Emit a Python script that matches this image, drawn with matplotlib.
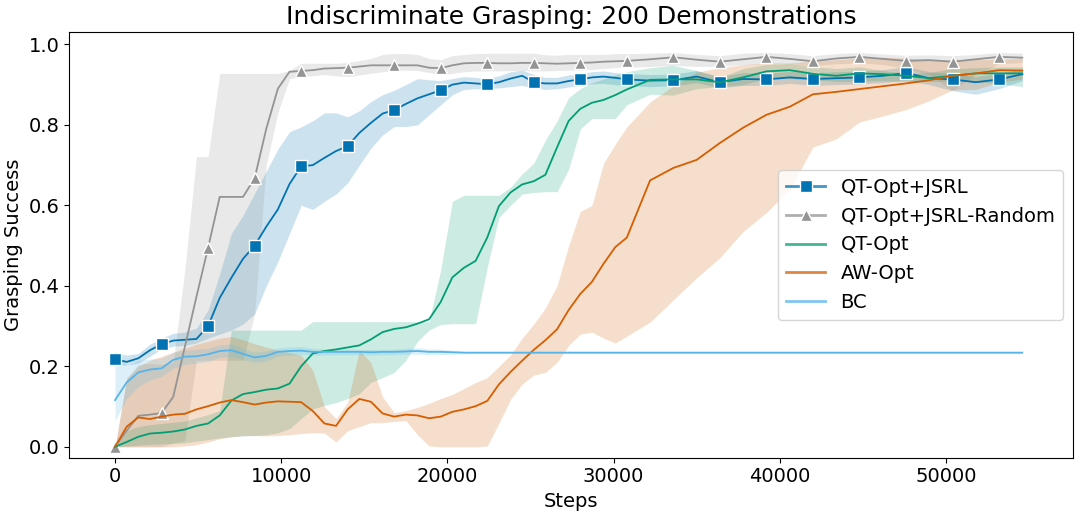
import numpy as np
import matplotlib
matplotlib.use('Agg')
import matplotlib.pyplot as plt
from matplotlib.colors import to_rgba
from matplotlib.lines import Line2D

# eval steps: every 700 steps up to 30800, then every 1400
steps = np.concatenate([np.arange(0, 31500, 700), np.arange(32200, 55000, 1400)])

# QT-Opt+JSRL
jsrl_mean = [0.218, 0.211, 0.220, 0.240, 0.255, 0.264, 0.266, 0.268, 0.300, 0.370,
             0.420, 0.467, 0.500, 0.547, 0.590, 0.653, 0.697, 0.700, 0.718, 0.735,
             0.747, 0.780, 0.805, 0.828, 0.837, 0.852, 0.866, 0.876, 0.886, 0.900,
             0.905, 0.903, 0.901, 0.906, 0.915, 0.922, 0.906, 0.903, 0.903, 0.909,
             0.913, 0.918, 0.920, 0.917, 0.913,
             0.910, 0.911, 0.920, 0.906, 0.914, 0.913, 0.918, 0.914, 0.916, 0.918,
             0.922, 0.929, 0.916, 0.913, 0.906, 0.913, 0.926]
jsrl_low = [0.205, 0.202, 0.208, 0.225, 0.243, 0.250, 0.252, 0.258, 0.270, 0.280,
            0.290, 0.305, 0.330, 0.400, 0.460, 0.530, 0.600, 0.590, 0.610, 0.628,
            0.656, 0.700, 0.742, 0.775, 0.796, 0.796, 0.800, 0.825, 0.850, 0.875,
            0.888, 0.890, 0.890, 0.892, 0.895, 0.898, 0.892, 0.888, 0.890, 0.894,
            0.898, 0.902, 0.903, 0.900, 0.898,
            0.895, 0.897, 0.905, 0.892, 0.898, 0.898, 0.903, 0.898, 0.900, 0.902,
            0.905, 0.910, 0.900, 0.885, 0.876, 0.890, 0.910]
jsrl_high = [0.235, 0.228, 0.232, 0.255, 0.270, 0.282, 0.285, 0.295, 0.340, 0.430,
             0.530, 0.575, 0.630, 0.685, 0.740, 0.783, 0.795, 0.810, 0.830, 0.830,
             0.820, 0.835, 0.858, 0.875, 0.886, 0.900, 0.915, 0.912, 0.910, 0.915,
             0.920, 0.918, 0.915, 0.922, 0.932, 0.936, 0.925, 0.918, 0.918, 0.924,
             0.928, 0.932, 0.934, 0.930, 0.928,
             0.925, 0.926, 0.935, 0.920, 0.930, 0.928, 0.933, 0.930, 0.932, 0.934,
             0.937, 0.945, 0.932, 0.928, 0.920, 0.928, 0.940]

# QT-Opt+JSRL-Random
rand_mean = [0.000, 0.040, 0.077, 0.080, 0.084, 0.124, 0.248, 0.373, 0.495, 0.621,
             0.621, 0.621, 0.667, 0.790, 0.890, 0.932, 0.934, 0.936, 0.940, 0.941,
             0.942, 0.945, 0.948, 0.948, 0.948, 0.948, 0.948, 0.942, 0.941, 0.948,
             0.953, 0.954, 0.954, 0.953, 0.953, 0.954, 0.954, 0.953, 0.952, 0.953,
             0.954, 0.955, 0.957, 0.958, 0.959,
             0.963, 0.968, 0.962, 0.957, 0.963, 0.969, 0.964, 0.958, 0.965, 0.969,
             0.964, 0.959, 0.961, 0.957, 0.963, 0.969, 0.967]
rand_low = [0.000, 0.000, 0.000, 0.000, 0.000, 0.010, 0.015, 0.215, 0.215, 0.215,
            0.215, 0.215, 0.330, 0.700, 0.830, 0.915, 0.919, 0.922, 0.925, 0.922,
            0.920, 0.924, 0.928, 0.932, 0.935, 0.936, 0.935, 0.930, 0.925, 0.928,
            0.932, 0.934, 0.934, 0.934, 0.935, 0.935, 0.934, 0.934, 0.935, 0.936,
            0.936, 0.938, 0.940, 0.942, 0.943,
            0.945, 0.948, 0.945, 0.946, 0.950, 0.952, 0.953, 0.947, 0.952, 0.954,
            0.950, 0.940, 0.925, 0.885, 0.925, 0.952, 0.955]
rand_high = [0.000, 0.170, 0.205, 0.207, 0.205, 0.210, 0.440, 0.721, 0.721, 0.928,
             0.928, 0.928, 0.928, 0.928, 0.928, 0.935, 0.953, 0.953, 0.953, 0.953,
             0.955, 0.960, 0.965, 0.975, 0.977, 0.977, 0.975, 0.965, 0.962, 0.972,
             0.975, 0.977, 0.978, 0.978, 0.978, 0.978, 0.978, 0.974, 0.973, 0.975,
             0.975, 0.975, 0.975, 0.977, 0.977,
             0.978, 0.980, 0.975, 0.972, 0.978, 0.980, 0.977, 0.972, 0.977, 0.980,
             0.976, 0.973, 0.974, 0.972, 0.975, 0.980, 0.978]

# QT-Opt
qt_mean = [0.000, 0.012, 0.025, 0.033, 0.035, 0.038, 0.043, 0.052, 0.058, 0.078,
           0.115, 0.131, 0.136, 0.142, 0.145, 0.157, 0.200, 0.232, 0.238, 0.242,
           0.247, 0.252, 0.267, 0.285, 0.293, 0.297, 0.306, 0.317, 0.360, 0.421,
           0.445, 0.462, 0.520, 0.598, 0.632, 0.652, 0.660, 0.676, 0.744, 0.810,
           0.840, 0.855, 0.862, 0.874, 0.888,
           0.912, 0.913, 0.913, 0.906, 0.918, 0.933, 0.936, 0.927, 0.922, 0.928,
           0.926, 0.922, 0.916, 0.922, 0.928, 0.928, 0.928]
qt_low = [0.000, 0.002, 0.004, 0.006, 0.007, 0.008, 0.010, 0.014, 0.018, 0.022,
          0.025, 0.027, 0.028, 0.030, 0.035, 0.045, 0.070, 0.094, 0.103, 0.110,
          0.120, 0.132, 0.160, 0.172, 0.185, 0.215, 0.262, 0.290, 0.304, 0.306,
          0.306, 0.306, 0.446, 0.570, 0.600, 0.628, 0.632, 0.634, 0.634, 0.690,
          0.790, 0.816, 0.816, 0.816, 0.850,
          0.876, 0.874, 0.890, 0.895, 0.900, 0.915, 0.915, 0.912, 0.908, 0.908,
          0.910, 0.908, 0.907, 0.910, 0.907, 0.903, 0.895]
qt_high = [0.000, 0.040, 0.050, 0.055, 0.058, 0.061, 0.064, 0.072, 0.080, 0.090,
           0.290, 0.290, 0.290, 0.290, 0.290, 0.290, 0.290, 0.311, 0.311, 0.311,
           0.311, 0.311, 0.311, 0.311, 0.311, 0.311, 0.311, 0.311, 0.440, 0.610,
           0.625, 0.625, 0.625, 0.625, 0.645, 0.678, 0.705, 0.762, 0.810, 0.868,
           0.890, 0.905, 0.914, 0.924, 0.932,
           0.942, 0.948, 0.935, 0.918, 0.940, 0.950, 0.953, 0.945, 0.940, 0.944,
           0.935, 0.928, 0.930, 0.940, 0.942, 0.944, 0.944]

# AW-Opt
aw_mean = [0.000, 0.050, 0.073, 0.069, 0.075, 0.080, 0.082, 0.093, 0.101, 0.110,
           0.116, 0.111, 0.105, 0.110, 0.113, 0.112, 0.111, 0.089, 0.058, 0.052,
           0.093, 0.119, 0.112, 0.083, 0.075, 0.080, 0.078, 0.071, 0.075, 0.087,
           0.093, 0.101, 0.114, 0.155, 0.186, 0.214, 0.241, 0.265, 0.292, 0.340,
           0.380, 0.410, 0.455, 0.496, 0.520,
           0.662, 0.693, 0.713, 0.755, 0.793, 0.825, 0.845, 0.876, 0.882, 0.889,
           0.896, 0.903, 0.911, 0.922, 0.928, 0.936, 0.935]
aw_low = [0.000, 0.000, 0.000, 0.000, 0.000, 0.000, 0.002, 0.005, 0.012, 0.020,
          0.025, 0.028, 0.028, 0.027, 0.028, 0.030, 0.033, 0.035, 0.034, 0.012,
          0.040, 0.050, 0.060, 0.060, 0.063, 0.065, 0.030, 0.002, 0.000, 0.000,
          0.000, 0.000, 0.002, 0.058, 0.118, 0.156, 0.178, 0.185, 0.210, 0.252,
          0.280, 0.285, 0.270, 0.258, 0.275,
          0.310, 0.365, 0.420, 0.470, 0.535, 0.582, 0.640, 0.745, 0.765, 0.807,
          0.822, 0.838, 0.860, 0.887, 0.888, 0.906, 0.914]
aw_high = [0.000, 0.170, 0.200, 0.215, 0.225, 0.235, 0.245, 0.255, 0.262, 0.270,
           0.274, 0.266, 0.256, 0.248, 0.240, 0.234, 0.228, 0.190, 0.100, 0.070,
           0.110, 0.240, 0.209, 0.124, 0.085, 0.090, 0.098, 0.108, 0.120, 0.130,
           0.145, 0.160, 0.172, 0.200, 0.228, 0.270, 0.305, 0.345, 0.400, 0.500,
           0.585, 0.600, 0.705, 0.752, 0.795,
           0.857, 0.897, 0.931, 0.942, 0.950, 0.954, 0.954, 0.958, 0.962, 0.966,
           0.968, 0.966, 0.962, 0.960, 0.962, 0.963, 0.965]

# BC
bc_mean = [0.116, 0.160, 0.185, 0.192, 0.195, 0.216, 0.224, 0.225, 0.230, 0.238,
           0.240, 0.231, 0.222, 0.226, 0.236, 0.238, 0.239, 0.236, 0.236, 0.236,
           0.236, 0.236, 0.235, 0.236, 0.236, 0.237, 0.238, 0.236, 0.236, 0.235,
           0.234, 0.234, 0.234, 0.234, 0.234, 0.234, 0.234, 0.234, 0.234, 0.234,
           0.234, 0.234, 0.234, 0.234, 0.234,
           0.234, 0.234, 0.234, 0.234, 0.234, 0.234, 0.234, 0.234, 0.234, 0.234,
           0.234, 0.234, 0.234, 0.234, 0.234, 0.234, 0.234]
bc_low = [0.065, 0.120, 0.150, 0.165, 0.175, 0.195, 0.205, 0.208, 0.212, 0.222,
          0.225, 0.217, 0.210, 0.213, 0.226, 0.228, 0.230, 0.228, 0.228, 0.229,
          0.229, 0.229, 0.228, 0.229, 0.229, 0.230, 0.230, 0.229, 0.229, 0.230,
          0.231, 0.232, 0.232, 0.232, 0.232, 0.232, 0.232, 0.232, 0.232, 0.232,
          0.232, 0.232, 0.232, 0.232, 0.232,
          0.232, 0.232, 0.232, 0.232, 0.232, 0.232, 0.232, 0.232, 0.232, 0.232,
          0.232, 0.232, 0.232, 0.232, 0.232, 0.232, 0.232]
bc_high = [0.240, 0.200, 0.215, 0.218, 0.220, 0.235, 0.240, 0.242, 0.245, 0.253,
           0.256, 0.245, 0.235, 0.238, 0.246, 0.248, 0.249, 0.245, 0.243, 0.243,
           0.243, 0.242, 0.242, 0.242, 0.243, 0.244, 0.246, 0.243, 0.243, 0.240,
           0.237, 0.236, 0.236, 0.236, 0.236, 0.236, 0.236, 0.236, 0.236, 0.236,
           0.236, 0.236, 0.236, 0.236, 0.236,
           0.236, 0.236, 0.236, 0.236, 0.236, 0.236, 0.236, 0.236, 0.236, 0.236,
           0.236, 0.236, 0.236, 0.236, 0.236, 0.236, 0.236]

labels = ['QT-Opt+JSRL', 'QT-Opt+JSRL-Random', 'QT-Opt', 'AW-Opt', 'BC']
colors = ['#0173b2', '#949494', '#029e73', '#d55e00', '#56b4e9']
markers = ['s', '^', None, None, None]
means = [jsrl_mean, rand_mean, qt_mean, aw_mean, bc_mean]
lows = [jsrl_low, rand_low, qt_low, aw_low, bc_low]
highs = [jsrl_high, rand_high, qt_high, aw_high, bc_high]

# markers every 2800 steps
mark_idx = [i for i, s in enumerate(steps) if s % 2800 == 0]

fig = plt.figure(figsize=(10.8, 5.23), dpi=100)
ax = fig.add_axes([0.0642, 0.1249, 0.9293, 0.8133])

handles = []
for lab, c, m, mu, lo, hi in zip(labels, colors, markers, means, lows, highs):
    ax.fill_between(steps, lo, hi, color=c, alpha=0.2, linewidth=0)
    if m is None:
        ax.plot(steps, mu, color=c, lw=1.3)
    else:
        ax.plot(steps, mu, color=c, lw=1.3, marker=m, markevery=mark_idx,
                markersize=8 if m == 's' else 8.5, markerfacecolor=c,
                markeredgecolor='white', markeredgewidth=1.0)
    handles.append(Line2D([], [], color=to_rgba(c, 0.75), lw=2.0, marker=m,
                          markersize=8 if m == 's' else 8.5, markerfacecolor=c,
                          markeredgecolor='white', markeredgewidth=1.0, label=lab))

ax.set_xlim(-2750, 57650)
ax.set_ylim(-0.027, 1.03)
ax.set_title('Indiscriminate Grasping: 200 Demonstrations', fontsize=18)
ax.set_xlabel('Steps', fontsize=14)
ax.set_ylabel('Grasping Success', fontsize=14)
ax.tick_params(labelsize=14)
ax.legend(handles=handles, loc='center right', fontsize=14)

fig.savefig('out.png', dpi=100)
